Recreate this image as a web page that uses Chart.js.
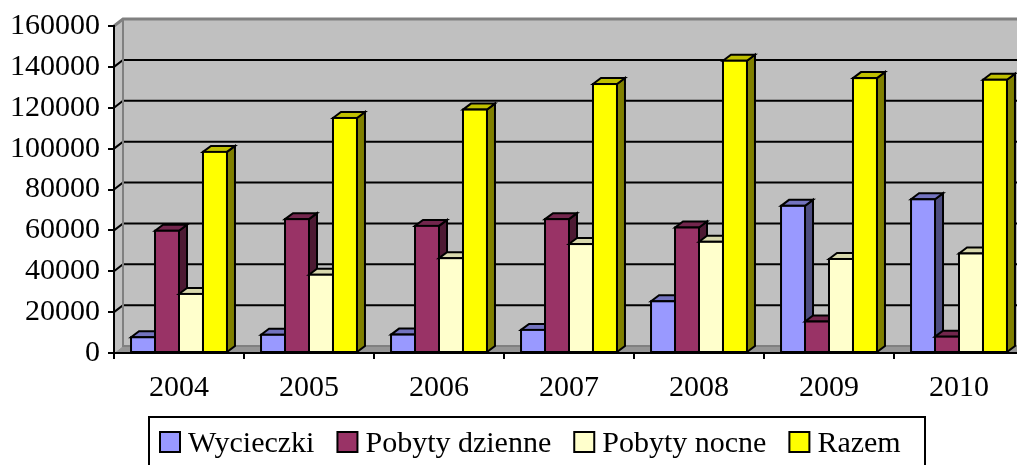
<!DOCTYPE html>
<html>
<head>
<meta charset="utf-8">
<script src="https://cdn.jsdelivr.net/npm/chart.js@4.4.1/dist/chart.umd.min.js"></script>
<style>
  html, body { margin: 0; padding: 0; background: #fff; overflow: hidden; }
  canvas { display: block; }
</style>
</head>
<body>
<canvas id="chart" width="1040" height="465"></canvas>
<script>
// --- data ---
const years = ['2004', '2005', '2006', '2007', '2008', '2009', '2010'];
const seriesNames = ['Wycieczki', 'Pobyty dzienne', 'Pobyty nocne', 'Razem'];
const wycieczki = [7700, 8900, 9000, 11300, 25300, 72000, 75200];
const pobytyDzienne = [59800, 65500, 62200, 65500, 61400, 15400, 8000];
const pobytyNocne = [28900, 38300, 46400, 53300, 54400, 46000, 48700];
const razem = [98400, 115000, 119100, 131600, 143000, 134500, 133700];
const yMax = 160000;
const yStep = 20000;

// front / side / top colours (Excel 3D look)
const frontColors = ['#9999FF', '#993366', '#FFFFCC', '#FFFF00'];
const sideColors = ['#4D4D80', '#4D1A33', '#80806A', '#808000'];
const topColors = ['#7373BF', '#73264D', '#D9D9AD', '#BFBF00'];

const FONT = "'Liberation Serif', 'Times New Roman', serif";
const BAR_DX = 8, BAR_DY = 6;     // bar depth
const WALL_DX = 9, WALL_DY = 7;   // wall depth

// --- walls, floor, gridlines ---
const wallsPlugin = {
  id: 'walls',
  beforeDraw(chart) {
    const { ctx, chartArea: a, scales: { y } } = chart;
    const top = y.getPixelForValue(yMax);
    const bottom = y.getPixelForValue(0);
    ctx.save();

    // back wall
    ctx.fillStyle = '#C0C0C0';
    ctx.fillRect(a.left + WALL_DX, top - WALL_DY, a.right - a.left, bottom - top);

    // side wall
    ctx.beginPath();
    ctx.moveTo(a.left, top);
    ctx.lineTo(a.left + WALL_DX, top - WALL_DY);
    ctx.lineTo(a.left + WALL_DX, bottom - WALL_DY);
    ctx.lineTo(a.left, bottom);
    ctx.closePath();
    ctx.fill();

    // floor
    ctx.fillStyle = '#969696';
    ctx.beginPath();
    ctx.moveTo(a.left, bottom);
    ctx.lineTo(a.left + WALL_DX, bottom - WALL_DY);
    ctx.lineTo(a.right + WALL_DX, bottom - WALL_DY);
    ctx.lineTo(a.right, bottom);
    ctx.closePath();
    ctx.fill();

    // gridlines (side wall + back wall)
    ctx.strokeStyle = '#000';
    ctx.lineWidth = 2;
    y.ticks.forEach(t => {
      if (t.value === 0 || t.value === yMax) return;
      const py = y.getPixelForValue(t.value);
      ctx.beginPath();
      ctx.moveTo(a.left, py);
      ctx.lineTo(a.left + WALL_DX, py - WALL_DY);
      ctx.lineTo(a.right + WALL_DX, py - WALL_DY);
      ctx.stroke();
    });

    // wall edges
    ctx.strokeStyle = '#808080';
    ctx.lineWidth = 3;
    ctx.beginPath();
    ctx.moveTo(a.left, top);
    ctx.lineTo(a.left + WALL_DX, top - WALL_DY);
    ctx.lineTo(a.right + WALL_DX, top - WALL_DY);
    ctx.stroke();
    ctx.lineWidth = 2;
    ctx.beginPath();
    ctx.moveTo(a.left + WALL_DX, top - WALL_DY);
    ctx.lineTo(a.left + WALL_DX, bottom - WALL_DY);
    ctx.lineTo(a.right + WALL_DX, bottom - WALL_DY);
    ctx.stroke();
    ctx.restore();
  }
};

// --- 3D bars: side, top, front per bar, series left to right ---
const bars3dPlugin = {
  id: 'bars3d',
  beforeDatasetsDraw(chart) {
    const { ctx } = chart;
    ctx.save();
    ctx.strokeStyle = '#000';
    ctx.lineWidth = 2;
    ctx.lineJoin = 'miter';
    chart.data.datasets.forEach((ds, i) => {
      const meta = chart.getDatasetMeta(i);
      meta.data.forEach(el => {
        const { x, y, base, width } = el.getProps(['x', 'y', 'base', 'width'], true);
        const l = x - width / 2, r = x + width / 2;
        // side
        ctx.fillStyle = sideColors[i];
        ctx.beginPath();
        ctx.moveTo(r, y);
        ctx.lineTo(r + BAR_DX, y - BAR_DY);
        ctx.lineTo(r + BAR_DX, base - BAR_DY);
        ctx.lineTo(r, base);
        ctx.closePath();
        ctx.fill(); ctx.stroke();
        // top
        ctx.fillStyle = topColors[i];
        ctx.beginPath();
        ctx.moveTo(l, y);
        ctx.lineTo(l + BAR_DX, y - BAR_DY);
        ctx.lineTo(r + BAR_DX, y - BAR_DY);
        ctx.lineTo(r, y);
        ctx.closePath();
        ctx.fill(); ctx.stroke();
        // front
        ctx.fillStyle = frontColors[i];
        ctx.fillRect(l, y, width, base - y);
        ctx.strokeRect(l, y, width, base - y);
      });
    });
    ctx.restore();
    return false;
  }
};

// --- boxed legend under the chart ---
const legendPlugin = {
  id: 'boxLegend',
  afterDraw(chart) {
    const { ctx } = chart;
    ctx.save();
    ctx.strokeStyle = '#000';
    ctx.lineWidth = 2;
    ctx.strokeRect(149, 417, 776, 80);
    ctx.font = '30px ' + FONT;
    ctx.textBaseline = 'alphabetic';
    ctx.textAlign = 'left';
    let x = 160;
    chart.data.datasets.forEach((ds, i) => {
      ctx.fillStyle = frontColors[i];
      ctx.fillRect(x, 432, 20, 20);
      ctx.strokeRect(x, 432, 20, 20);
      ctx.fillStyle = '#000';
      ctx.fillText(ds.label, x + 28, 452);
      x += 28 + ctx.measureText(ds.label).width + 23;
    });
    ctx.restore();
  }
};

const seriesData = [wycieczki, pobytyDzienne, pobytyNocne, razem];

new Chart(document.getElementById('chart').getContext('2d'), {
  type: 'bar',
  data: {
    labels: years,
    datasets: seriesNames.map((name, i) => ({
      label: name,
      data: seriesData[i],
      backgroundColor: frontColors[i],
      borderColor: '#000',
      borderWidth: 2
    }))
  },
  options: {
    responsive: false,
    animation: false,
    layout: { padding: { top: 25, right: 16, bottom: 0, left: 0 } },
    datasets: {
      bar: { categoryPercentage: 0.738, barPercentage: 1 }
    },
    scales: {
      x: {
        grid: { display: true, drawOnChartArea: false, drawTicks: true, tickLength: 6, offset: true, color: '#000', lineWidth: 2 },
        border: { display: true, color: '#000', width: 2 },
        ticks: { color: '#000', font: { family: FONT, size: 30 }, padding: 11, maxRotation: 0 },
        afterFit(s) { s.height = 112; }
      },
      y: {
        min: 0,
        max: yMax,
        grid: { display: true, drawOnChartArea: false, drawTicks: true, tickLength: 6, color: '#000', lineWidth: 2 },
        border: { display: true, color: '#000', width: 2 },
        ticks: { stepSize: yStep, color: '#000', font: { family: FONT, size: 30 }, padding: 8, callback: v => String(v) },
        afterFit(s) { s.width = 114; }
      }
    },
    plugins: {
      legend: { display: false },
      tooltip: { enabled: false }
    }
  },
  plugins: [wallsPlugin, bars3dPlugin, legendPlugin]
});
</script>
</body>
</html>
